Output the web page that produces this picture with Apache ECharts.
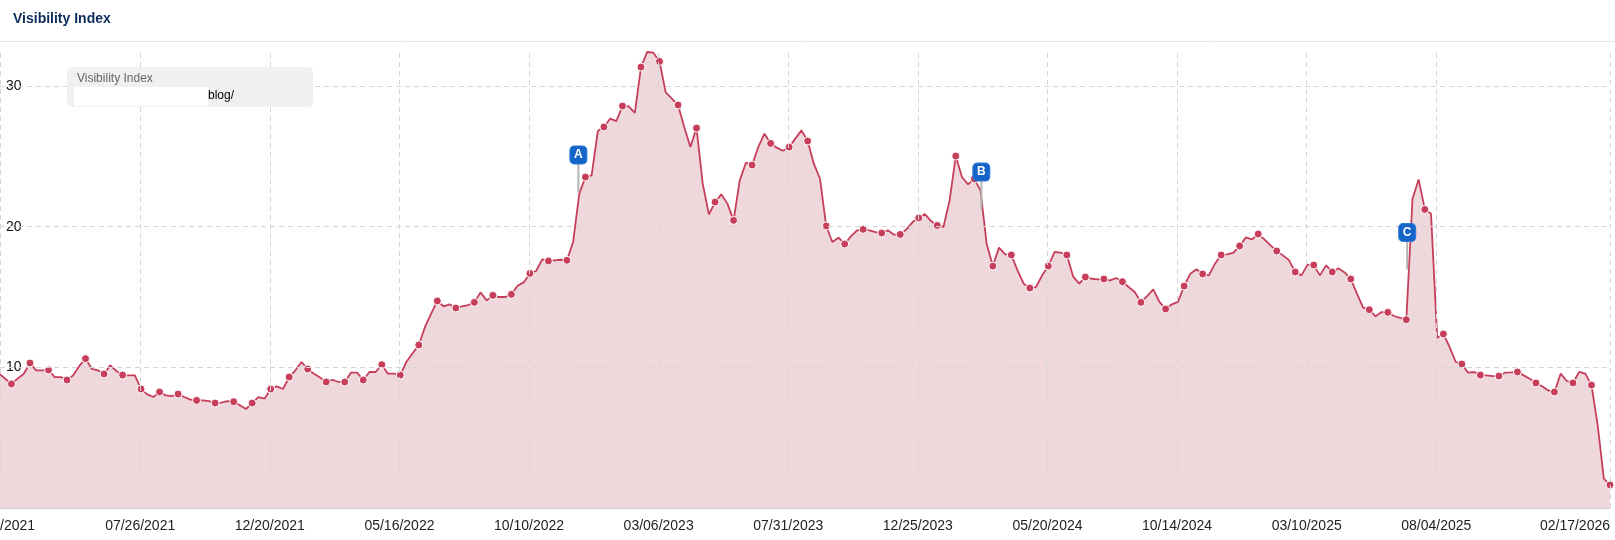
<!DOCTYPE html>
<html>
<head>
<meta charset="utf-8">
<script src="https://cdn.jsdelivr.net/npm/echarts@6/dist/echarts.min.js"></script>
<style>
html,body{margin:0;padding:0;background:#fff;}
#chart{width:1615px;height:540px;}
</style>
</head>
<body>
<div id="chart"></div>
<script>
// ---- data ----
const seriesName = 'Visibility Index';
const legendUrl = 'blog/';
const firstWeek = '2021-02-16';      // first weekly measurement (Tuesday)
const weekStepDays = 7;
const axisStart = '2021-02-17';
const axisEnd = '2026-02-17';

const values = [
  9.55, 9.19, 8.82, 9.2, 9.55, 10.31, 9.79, 9.79, 9.81, 9.31,
  9.31, 9.1, 9.43, 10.1, 10.62, 9.9, 9.79, 9.53, 10.14, 9.74,
  9.45, 9.43, 9.43, 8.46, 8.08, 7.89, 8.25, 8.01, 7.96, 8.1,
  7.89, 7.7, 7.65, 7.65, 7.6, 7.46, 7.49, 7.6, 7.56, 7.3,
  7.04, 7.46, 7.89, 7.77, 8.46, 8.65, 8.46, 9.31, 9.79, 10.38,
  9.88, 9.55, 9.27, 8.96, 9.12, 8.96, 8.96, 9.62, 9.62, 9.1,
  9.67, 9.67, 10.19, 9.55, 9.55, 9.45, 10.4, 11.0, 11.59, 12.87,
  13.82, 14.72, 14.34, 14.48, 14.22, 14.34, 14.43, 14.62, 15.33, 14.76,
  15.12, 15.0, 15.0, 15.19, 15.8, 16.04, 16.68, 16.85, 17.68, 17.56,
  17.61, 17.65, 17.61, 18.91, 22.35, 23.53, 23.65, 26.8, 27.09, 27.68,
  27.51, 28.58, 28.55, 28.1, 31.35, 32.42, 32.37, 31.75, 29.55, 29.1,
  28.65, 27.09, 25.66, 27.01, 23.06, 20.88, 21.75, 22.3, 21.64, 20.45,
  23.29, 24.55, 24.38, 25.66, 26.61, 25.92, 25.62, 25.4, 25.66, 26.26,
  26.85, 26.09, 24.48, 23.41, 20.05, 18.91, 19.22, 18.77, 19.31, 19.74,
  19.81, 19.74, 19.62, 19.55, 19.74, 19.43, 19.45, 19.81, 20.33, 20.62,
  20.9, 20.4, 20.09, 19.98, 21.87, 25.02, 23.53, 23.01, 23.39, 22.58,
  18.79, 17.2, 18.51, 18.03, 17.99, 16.9, 15.95, 15.64, 15.71, 16.54,
  17.2, 18.2, 18.15, 17.99, 16.47, 15.95, 16.42, 16.3, 16.26, 16.28,
  16.18, 16.35, 16.09, 15.71, 15.36, 14.62, 15.07, 15.55, 14.65, 14.15,
  14.48, 14.65, 15.78, 16.66, 16.97, 16.64, 16.54, 17.37, 17.99, 18.03,
  18.15, 18.63, 19.24, 19.1, 19.48, 19.1, 18.67, 18.27, 17.96, 17.61,
  16.78, 16.54, 17.3, 17.27, 16.54, 17.25, 16.78, 17.04, 16.75, 16.28,
  15.24, 14.24, 14.1, 13.63, 13.93, 13.91, 13.65, 13.51, 13.39, 21.99,
  23.36, 21.23, 20.92, 12.11, 12.37, 11.45, 10.38, 10.24, 9.62, 9.67,
  9.45, 9.43, 9.38, 9.38, 9.62, 9.64, 9.67, 9.43, 9.19, 8.89,
  8.65, 8.36, 8.25, 9.55, 9.03, 8.89, 9.67, 9.55, 8.74, 5.9,
  2.09, 1.64
];

const tickDates = [
  '2021-02-17', '2021-07-26', '2021-12-20', '2022-05-16', '2022-10-10',
  '2023-03-06', '2023-07-31', '2023-12-25', '2024-05-20', '2024-10-14',
  '2025-03-10', '2025-08-04', '2026-02-17'
];
const yGridValues = [10, 20, 30];

const flagLabels = ['A', 'B', 'C'];
const flagDates = ['2022-12-05', '2024-03-06', '2025-07-02'];
const flagValues = [22.47, 21.25, 16.96];

// dotted markers: every 3rd week, phase changes once
const dotEvery = 3;
const dotPhaseSwitchIndex = 188;

// ---- build ----
const DAY = 86400000;
const ts = d => +echarts.time.parse(d);
const t0 = ts(firstWeek);
const weekDates = values.map((_, i) => t0 + i * weekStepDays * DAY);
const lineData = values.map((v, i) => [weekDates[i], v]);
const dotData = lineData.filter((p, i) => i % dotEvery === (i < dotPhaseSwitchIndex ? 2 : 0));
const tickTs = tickDates.map(ts);
const xMin = ts(axisStart);
const xMax = ts(axisEnd);

const FONT = "'Liberation Sans', Arial, sans-serif";
const RED = '#c73e5b';

const gridLines = tickTs.map(t => ({ xAxis: t }))
  .concat(yGridValues.map(v => ({ yAxis: v })));

const flagPoints = [];
flagLabels.forEach((lab, k) => {
  const c = [ts(flagDates[k]), flagValues[k]];
  flagPoints.push({
    coord: c,
    symbol: 'rect',
    symbolSize: [2, 28],
    symbolOffset: [0, -14],
    itemStyle: { color: '#b4b4b4' },
    label: { show: false }
  });
  flagPoints.push({
    coord: c,
    symbol: 'roundRect',
    symbolSize: [17, 18],
    symbolOffset: [0, -37],
    itemStyle: { color: '#1565c8', borderColor: '#2a78d8', borderWidth: 1 },
    label: {
      show: true, position: 'inside', formatter: lab,
      color: '#fff', fontWeight: 'bold', fontSize: 12, fontFamily: FONT
    }
  });
});

const chart = echarts.init(document.getElementById('chart'), null, { renderer: 'canvas' });
chart.setOption({
  animation: false,
  backgroundColor: '#fff',
  title: {
    text: 'Visibility Index',
    left: 13, top: 12, padding: 0,
    textStyle: { fontSize: 14, fontWeight: 'bold', color: '#0c2c5c', fontFamily: FONT }
  },
  grid: {
    left: 0, right: 5, top: 52, bottom: 32,
    containLabel: false, outerBoundsMode: 'none'
  },
  xAxis: {
    type: 'value',
    min: xMin,
    max: xMax,
    axisLine: { show: true, lineStyle: { color: '#cfcfcf', width: 1 } },
    axisTick: { show: false },
    splitLine: { show: false },
    axisLabel: {
      customValues: tickTs,
      alignMaxLabel: 'right',
      margin: 11,
      fontSize: 14,
      color: '#222',
      fontFamily: FONT,
      hideOverlap: false,
      formatter: v => echarts.time.format(v, '{MM}/{dd}/{yyyy}', false)
    }
  },
  yAxis: {
    type: 'value',
    min: 0,
    max: 'dataMax',
    interval: 10,
    axisLine: { show: false },
    axisTick: { show: false },
    splitLine: { show: false },
    axisLabel: {
      inside: true,
      margin: 6,
      fontSize: 14,
      color: '#111',
      fontFamily: FONT,
      showMinLabel: false,
      showMaxLabel: false
    }
  },
  series: [
    {
      name: 'grid',
      type: 'line',
      data: [],
      z: 1,
      silent: true,
      markLine: {
        silent: true,
        symbol: ['none', 'none'],
        label: { show: false },
        lineStyle: { color: '#d6d6d6', type: [5, 4], width: 1 },
        emphasis: { disabled: true },
        data: gridLines
      }
    },
    {
      name: seriesName,
      type: 'line',
      z: 2,
      data: lineData,
      showSymbol: false,
      lineStyle: { color: RED, width: 1.8 },
      itemStyle: { color: RED },
      areaStyle: { color: 'rgba(170, 60, 80, 0.2)', opacity: 1 },
      markPoint: {
        silent: true,
        data: flagPoints
      }
    },
    {
      name: seriesName + ' points',
      type: 'scatter',
      z: 3,
      data: dotData,
      symbol: 'circle',
      symbolSize: 8,
      silent: true,
      itemStyle: { color: RED, borderColor: '#fff', borderWidth: 1, opacity: 1 }
    }
  ],
  graphic: [
    { type: 'line', z: 100, shape: { x1: 0, y1: 41.5, x2: 1615, y2: 41.5 }, style: { stroke: '#e8e8e8', lineWidth: 1 } },
    { type: 'rect', z: 100, shape: { x: 67, y: 67, width: 246, height: 40, r: 5 }, style: { fill: '#f0f0f0' } },
    { type: 'text', z: 101, x: 77, y: 79, style: { text: seriesName, fill: '#666', fontSize: 12, fontFamily: FONT, verticalAlign: 'middle' } },
    { type: 'rect', z: 101, shape: { x: 74, y: 87, width: 134, height: 19 }, style: { fill: '#fff' } },
    { type: 'text', z: 102, x: 208, y: 96, style: { text: legendUrl, fill: '#000', fontSize: 12, fontFamily: FONT, verticalAlign: 'middle' } }
  ]
});
</script>
</body>
</html>
